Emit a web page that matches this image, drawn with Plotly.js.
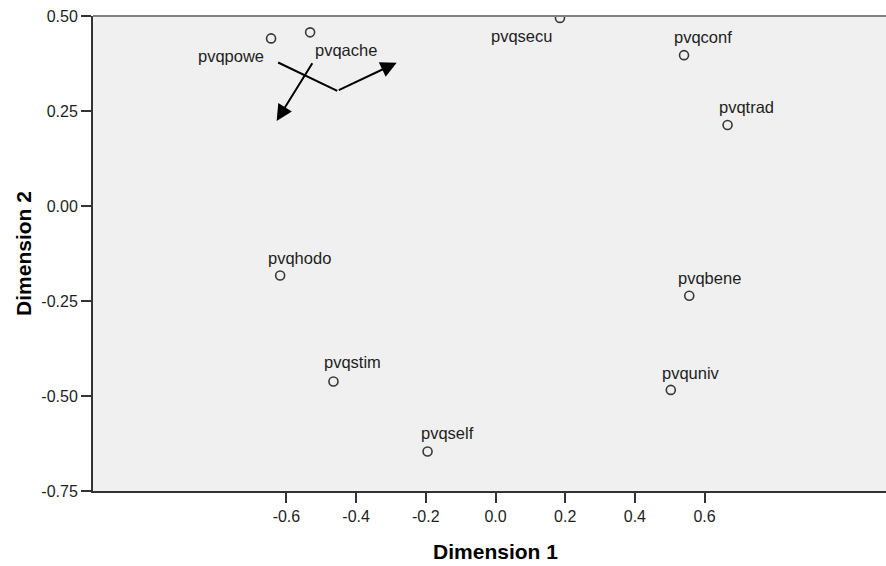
<!DOCTYPE html>
<html>
<head>
<meta charset="utf-8">
<script src="https://cdn.plot.ly/plotly-3.0.1.min.js"></script>
<style>
  html, body { margin: 0; padding: 0; overflow: hidden; background: #ffffff; }
  #chart { width: 900px; height: 566px; }
</style>
</head>
<body>
<div id="chart"></div>
<script>
// ---- data ----
const labels = ["pvqpowe", "pvqache", "pvqsecu", "pvqconf", "pvqtrad",
                "pvqhodo", "pvqbene", "pvqstim", "pvquniv", "pvqself"];
const dim1 = [-0.644, -0.532, 0.185, 0.541, 0.666, -0.618, 0.556, -0.465, 0.503, -0.195];
const dim2 = [0.441, 0.457, 0.495, 0.397, 0.213, -0.183, -0.236, -0.462, -0.484, -0.646];

const xTickVals = [-0.6, -0.4, -0.2, 0.0, 0.2, 0.4, 0.6];
const xTickText = ["-0.6", "-0.4", "-0.2", "0.0", "0.2", "0.4", "0.6"];
const yTickVals = [0.50, 0.25, 0.00, -0.25, -0.50, -0.75];
const yTickText = ["0.50", "0.25", "0.00", "-0.25", "-0.50", "-0.75"];

// ---- label placement (pixel offsets from each point; style only) ----
const labelAnchor = ["right", "left", "right", "left", "left", "left", "left", "left", "left", "left"];
const labelDx = [-5, 3, -6, -12, -11, -14, -13, -11, -11, -9];
const labelDy = [-18, -18, -18, 18, 18, 18, 18, 20, 17, 18];

// ---- hand-drawn arrows in the reference (data coordinates: tail -> head) ----
const arrowTailX = [-0.628, -0.454, -0.523];
const arrowTailY = [0.3795, 0.303, 0.3795];
const arrowHeadX = [-0.454, -0.2835, -0.628];
const arrowHeadY = [0.303, 0.377, 0.224];
const arrowHasHead = [false, true, true];

const fontFam = '"Liberation Sans", Arial, sans-serif';

const trace = {
  type: 'scatter',
  mode: 'markers',
  x: dim1,
  y: dim2,
  text: labels,
  hoverinfo: 'text',
  cliponaxis: true,
  marker: {
    symbol: 'circle-open',
    size: 9,
    color: '#383838',
    line: { width: 1.6, color: '#383838' }
  }
};

const annotations = labels.map((t, i) => ({
  x: dim1[i], y: dim2[i], xref: 'x', yref: 'y',
  text: t, showarrow: false,
  xanchor: labelAnchor[i], yanchor: 'middle',
  xshift: labelDx[i], yshift: labelDy[i],
  font: { family: fontFam, size: 16.5, color: '#1e1e1e' }
}));

arrowTailX.forEach((_, i) => {
  annotations.push({
    x: arrowHeadX[i], y: arrowHeadY[i], xref: 'x', yref: 'y',
    ax: arrowTailX[i], ay: arrowTailY[i], axref: 'x', ayref: 'y',
    text: '', showarrow: true,
    arrowhead: arrowHasHead[i] ? 2 : 0,
    arrowsize: 1.6, arrowwidth: 2, arrowcolor: '#000000',
    standoff: 0, startstandoff: 0
  });
});

const layout = {
  width: 900,
  height: 566,
  margin: { l: 93, r: 2, t: 16, b: 75 },
  paper_bgcolor: '#ffffff',
  plot_bgcolor: '#f0f0f0',
  showlegend: false,
  font: { family: fontFam, size: 16, color: '#1e1e1e' },
  xaxis: {
    range: [-1.155, 1.155],
    tickmode: 'array',
    tickvals: xTickVals,
    ticktext: xTickText,
    ticks: 'outside', ticklen: 10, tickwidth: 2, tickcolor: '#333333',
    showgrid: false, zeroline: false,
    showline: true, linewidth: 2, linecolor: '#333333',
    tickfont: { family: fontFam, size: 16, color: '#1e1e1e' },
    title: { text: 'Dimension 1', standoff: 20,
             font: { family: fontFam, size: 21, color: '#000000', weight: 'bold' } },
    fixedrange: true
  },
  yaxis: {
    range: [-0.75, 0.5],
    tickmode: 'array',
    tickvals: yTickVals,
    ticktext: yTickText,
    ticks: 'outside', ticklen: 10, tickwidth: 2, tickcolor: '#333333',
    showgrid: false, zeroline: false,
    showline: true, linewidth: 2, linecolor: '#333333',
    tickfont: { family: fontFam, size: 16, color: '#1e1e1e' },
    title: { text: 'Dimension 2', standoff: 4,
             font: { family: fontFam, size: 21, color: '#000000', weight: 'bold' } },
    fixedrange: true
  },
  shapes: [{
    type: 'line', xref: 'paper', yref: 'paper',
    x0: 0, x1: 1, y0: 1, y1: 1,
    line: { color: '#808080', width: 2 }
  }],
  annotations: annotations
};

Plotly.newPlot('chart', [trace], layout, { displayModeBar: false, staticPlot: true });
</script>
</body>
</html>
